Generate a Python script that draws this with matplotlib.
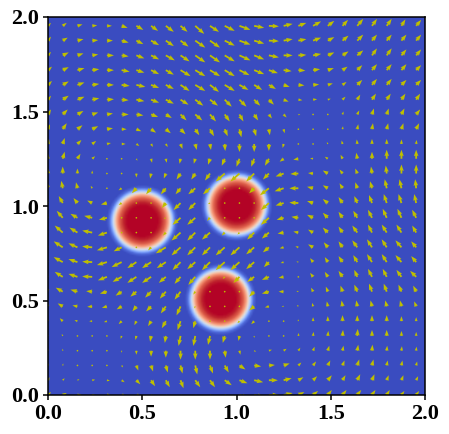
import numpy as np
import matplotlib
matplotlib.use("Agg")
import matplotlib.pyplot as plt

# disc centres and radial profile of the field
disc_x = [0.497, 0.997, 0.912]
disc_y = [0.917, 1.000, 0.503]
profile_r = [0.0, 0.08, 0.10, 0.12, 0.135, 0.145, 0.155, 0.165, 0.175, 0.19]
profile_c = [1.0, 1.0, 0.97, 0.88, 0.74, 0.58, 0.40, 0.21, 0.07, 0.0]

tick_values = [0.0, 0.5, 1.0, 1.5, 2.0]
tick_labels = ["0.0", "0.5", "1.0", "1.5", "2.0"]

# arrow components, top row first (in pixels of arrow length)
u_rows = [
    [3, 4, 5, 5, 5, 6, 7, 7, 8, 7, 9, 9, 10, 11, 10, 10, 9, 8, 8, 6.5, 5.5, 6, 5, 5, 4, 5],
    [3, 5, 6, 6, 6, 7, 7, 8, 8, 8, 10, 10, 10, 11, 10, 10, 9, 8, 8, 6.5, 6, 6, 5, 5, 5, 5],
    [3, 6, 6, 6, 7, 7, 8, 8, 9, 9, 10, 10, 10, 11, 10, 10, 9, 8, 8, 6.5, 6, 6, 5, 5, 5, 5],
    [4, 6, 7, 7, 7, 8, 8, 8, 8, 10, 10, 10, 10, 10, 10, 9, 8, 7, 7, 6, 5, 5, 5, 5, 5, 5],
    [4, 6, 7, 7, 7, 8, 9, 8, 8, 9, 10, 9, 10, 9, 8, 7, 6, 6, 6, 5, 4, 5, 5, 5, 5, 5],
    [3, 6, 7, 7, 7, 7, 8, 8, 8, 8, 8, 8, 7, 7, 6, 5, 5, 4, 4, 3, 3, 3, 4, 4, 4, 4],
    [3, 5, 6, 6, 6, 7, 7, 7, 6, 6, 7, 6, 5, 4, 4, 3, 3, 2, 1, 1, 1, 2, 2, 2, 3, 4],
    [2, 4, 5, 6, 6, 5, 5, 5, 5, 5, 4, 4, 3, 2, 2, 1, 1, .3, 0, .5, .5, 1, 1, 1.5, 2, 3],
    [1, 2, 4, 4, 4, 4, 3, 2, 2, 2, 1.5, 1, .5, 0, 0, 0, -1, -1, -1, -1, -1, -.5, 0, 0, 0, .5],
    [0, 2, 3, 3, 1, 1, 1, 1, 1, -1, -1.5, -2, -3, -3, -3, -4, -4, -5, -3, -3, -2, -1, 0, 0, 0, 0],
    [-.5, 0, 0, 0, 0, -.3, 0, -1, -2, -4, -4, -5, -9, -9, -8, -6, -8, -8, -5, -5, -3, -2, -1, -1, 0, 0],
    [-2, -1.5, -1.5, -1.5, -.7, -3, -4.5, -5, -5, -5, -7, -7, -.3, -.3, -5, -9, -9, -9, -6, -5, -3, -2, -2, -2, -2, -1],
    [-5, -4, -4, -5, -6, -3, -.3, -.3, -4, -7, -7, -2, -.3, -.3, -.3, -8, -8, -9, -6, -5, -4, -3, -3, -3, -3, -2],
    [-5, -6, -7, -8, -8, -.3, -.3, -.3, -2, -8, -8, -3, -.3, -.3, -.3, -8, -7, -7, -6, -5, -4, -4, -4, -4, -4, -4],
    [-7, -8, -8, -10, -9, -.3, -.3, -.3, -3, -9, -8, -8, -3, -2, -7, -7, -6, -5, -5, -5, -4, -5, -4, -5, -5, -4],
    [-7, -9, -9, -10, -10, -8, -.3, -3, -10, -9, -8, -8, -9, -9, -8, -6, -4, -3, -5, -4, -4, -5, -5, -5, -6, -5],
    [-7, -9, -9, -10, -10, -10, -9, -9, -9, -8, -8, -8, -9, -9, -8, -5, -3, -2, -3, -3, -4, -4, -5, -5, -6, -5],
    [-6, -8, -9, -10, -9, -9, -9, -9, -7, -6, -7, -3, -2, -6, -7, -7, -5, -1, -3, -3, -4, -3, -4, -4, -5, -6],
    [-5, -7, -7, -6, -7, -6, -6, -6, -6, -6, -2, -.3, -.3, -.3, -5, -7, -5, -2, -2, -2, -2, -3, -3, -3, -3, -3],
    [-3, -5, -5, -5, -5, -5, -4, -5, -5, -4, -1, -.3, -.3, -.3, -5, -4, -2, -1.5, -1, -1, -1, -1, -1.5, -1.5, -1.5, -2],
    [-2, -3, -3, -3, -3, -3, -2, -3, -4, -3, -2, -.5, -.3, -2, -3, -1, -.5, -.3, 0, 0, 0, 0, 0, 0, 0, 0],
    [-1, -1, -1, -.5, -.5, -1, -1, -1, -1, -2, -2, -2, -2, -1, 0, 0, .5, .5, .5, .5, .5, .5, 0, 0, 0, 0],
    [0, 0, 0, 0, 0, 0, 0, 0, 0, 0, 0, 0, 1, 1, 2, 3, 3, 2, 1.5, 1.5, 1, 1, .5, .5, .5, .3],
    [.5, .5, .5, .3, .8, 1.5, 2, 2, 2, 2, 2, 3, 4, 6, 7, 6, 6, 3, 3, 2.5, 2, 2, 1.5, 1, 1, 1],
    [1.5, 2, 2, 3, 3, 3, 4, 4, 4, 3, 5, 5, 7, 8, 9, 9, 8, 5, 4, 4, 3, 3, 2.5, 2, 2, 2],
    [3, 4, 4, 3, 5, 5, 5, 5, 5, 5, 6, 7, 8, 9, 10, 10, 9, 6, 5, 4, 4, 4, 3.5, 3, 3, 3],
]
v_rows = [
    [3, 3, 1.5, .5, 0, -2, -4, -5, -6, -6, -8, -6, -5, -4, -2, -.5, 2, 3, 4.5, 5, 6, 7, 7, 7, 6.5, 6],
    [4, 3, 1.5, .5, 0, -2, -3.5, -4.5, -5.5, -6, -7, -7, -5, -4, -3, -.5, 1.5, 1.5, 3, 3.5, 5, 6, 6, 6, 6, 6],
    [3.5, 3, 2, 1, 0, -1, -3, -4, -5, -6, -7, -7, -6, -5, -4, -2, 0, .5, 1.5, 3, 4, 5, 7, 7, 6, 6],
    [3.5, 3, 2, 1, 0, -1.5, -2.5, -4, -4.5, -6, -6, -6, -6, -5, -4, -3, -1, -.5, 1, 2, 3.5, 5, 6, 6, 6, 5],
    [4, 3.5, 2.5, 1, 0, -1, -2, -3, -4, -6, -6, -7, -6, -5, -5, -4, -2, -.5, .5, 1.5, 3, 5, 6, 6, 5, 5],
    [4, 4, 3, 1.5, .5, -.5, -1.5, -3, -4, -5, -6, -6, -7, -7, -6, -5, -2, -.5, .5, 1, 3, 5, 6, 6, 6, 6],
    [5, 5, 3.5, 2, 1, 0, -1, -2.5, -3.5, -6, -6, -7, -7, -7, -6, -4, -3, -.5, .5, 1, 3, 4, 6, 6, 6, 5],
    [5, 6, 4, 3, 1, 0, -2, -3.5, -4, -5, -6, -7, -7, -8, -7, -6, -4, -.3, 0, 1, 3, 5, 6, 6, 6, 6],
    [5, 6, 4, 3, 1, 0, -2, -3, -3, -5, -6, -6, -7, -8, -8, -7, -4, -.5, .5, 2, 3.5, 4.5, 5, 5, 4.5, 4],
    [5, 7, 5, 2.5, .5, -.5, -2, -4, -4, -5, -5, -6, -7, -8, -8, -7, -3, -1, .5, 2, 4, 6, 7, 9, 9, 9],
    [6, 7, 5, 3, .5, -1, -4, -5, -5, -6, -6, -7, -8, -8, -8, -6, -3, -.5, .5, 3, 4, 5, 7, 8, 9, 9],
    [7, 7.5, 6, 2.5, -.3, -2, -5, -6, -6, -6, -6, -6, -.3, -.3, -5, -7, -3, 0, 1.5, 3, 5, 6, 7, 9, 9, 9],
    [7, 7, 5, 2.5, -1.5, -2, -.3, -.3, -5, -7, -7, -1, -.3, -.3, -.3, -7, -2.5, .5, 2, 4, 6, 7, 8, 9, 9, 9],
    [7, 7, 4, 2, -2, -.3, -.3, -.3, -1, -7, -7, -3, -.3, -.3, -.3, -7, -2, 1, 3, 5, 6, 7, 8, 9, 9, 8],
    [6, 7, 5, 2, -3, -.3, -.3, -.3, -3, -8, -8, -7, -3, -2, -7, -6, -1, 1, 3, 5, 6, 7, 8, 8, 8, 7],
    [6, 6, 4, 1, -3, -4, -.3, -3, -6, -8, -8, -8, -8, -8, -7, -5, -1, 1, 3, 5, 6, 7, 8, 8, 7, 6],
    [5, 5, 3, .5, -3, -5, -6, -6, -6, -8, -7, -8, -8, -8, -7, -5, -1, .5, 4, 5, 6, 7, 8, 8, 7, 6],
    [5, 5, 3, .5, -3.5, -5, -6, -6, -6, -7, -8, -2, -2, -6, -5, -3, -1, .5, 4, 5, 6, 7, 8, 8, 7, 6],
    [4, 4, 2, .5, -2, -4, -5, -6, -7, -8, -3, -.3, -.3, -.3, -5, -2, 0, .7, 4, 5, 6, 7, 8, 8, 7, 6],
    [4, 3, 1, -.5, -1.5, -3, -5, -5, -7, -9, -2, -.3, -.3, -.3, -4, -1, 0, 1.5, 3.5, 5, 6, 6, 6, 6, 6, 5],
    [3, 3, 1, 0, -1, -3, -4, -5, -7, -9, -7, -1, -.3, -2, -3, 0, 1, 2, 4, 5, 6, 6, 6, 6, 5, 4],
    [2, 2, .5, 0, -.5, -3, -4, -6, -7, -10, -10, -9, -7, -5, -2, 0, 1.5, 3, 4, 5, 6, 7, 6, 6, 5, 4],
    [2, 2, .3, .2, -.5, -2, -4, -6, -7, -9, -9, -9, -7, -4, -1, 1, 2, 3, 4, 5, 5, 6, 6, 5, 4.5, 4],
    [2, 2, .5, 0, -.5, -2, -5, -6, -7, -8, -9, -8, -7, -4, -1, .5, 2, 3, 4, 5, 5, 6, 6, 5, 5, 4],
    [3, 2, 1, .5, -.5, -2, -4, -6, -7, -8, -7, -7, -5, -3, -2, 0, 2, 3, 4, 5, 5, 6, 6, 5, 5, 4],
    [3, 2, .5, 0, -1, -3, -4, -6, -7, -8, -7, -6, -5, -3, -2, 0, 2, 3, 4, 5, 5, 5, 5, 5, 4, 4],
]

plt.rcParams['font.family'] = ['Liberation Serif']
plt.rcParams['font.weight'] = 'bold'

# colour field on the 256 x 256 grid
n_cells = 256
edges = np.arange(n_cells) * 2.0 / n_cells
xx, yy = np.meshgrid(edges, edges)
field = np.zeros_like(xx)
for cx, cy in zip(disc_x, disc_y):
    dist = np.hypot(xx - cx, yy - cy)
    field = np.maximum(field, np.interp(dist, profile_r, profile_c))

fig = plt.figure(figsize=(4.49, 4.34), dpi=100)
ax = fig.add_axes([48 / 449, 39 / 434, 377 / 449, 378 / 434])
ax.imshow(field, origin='lower', extent=[0, 2, 0, 2], cmap='coolwarm', vmin=0, vmax=1,
          interpolation='bilinear', aspect='auto')

# arrows every 10th grid cell
u = np.array(u_rows)[::-1]
v = np.array(v_rows)[::-1]
qx, qy = np.meshgrid(edges[::10], edges[::10])
ax.quiver(qx, qy, u, v, color='y', angles='uv', pivot='tail', units='inches',
          scale_units='inches', scale=100, width=0.018, headwidth=2.6,
          headlength=3.6, headaxislength=3.2)

ax.set_xlim(0, 2)
ax.set_ylim(0, 2)
ax.set_xticks(tick_values)
ax.set_xticklabels(tick_labels)
ax.set_yticks(tick_values)
ax.set_yticklabels(tick_labels)
ax.tick_params(labelsize=16, width=1.1, length=3.5, pad=3)
for side in ax.spines.values():
    side.set_linewidth(1.1)

fig.savefig("out.png", dpi=100)
